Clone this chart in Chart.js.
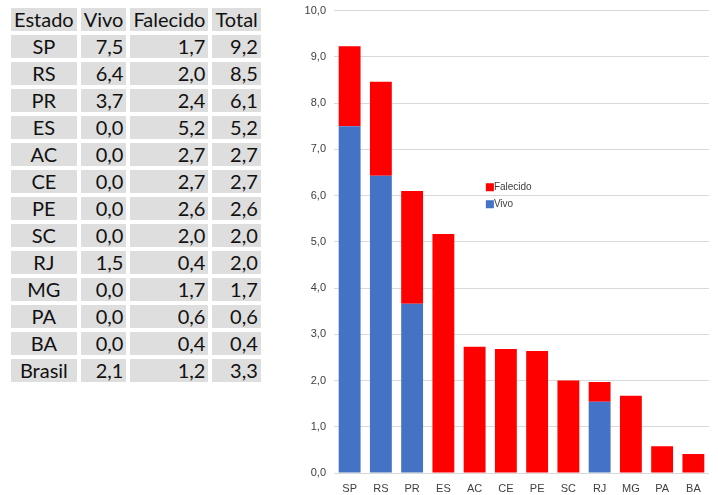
<!DOCTYPE html>
<html>
<head>
<meta charset="utf-8">
<script src="https://cdn.jsdelivr.net/npm/chart.js@4/dist/chart.umd.min.js"></script>
<style>
  body { margin: 0; background: #fff; width: 718px; height: 495px; overflow: hidden; position: relative; }
  #tbl { position: absolute; left: 7px; top: 4px; border-collapse: separate; border-spacing: 4px 4.75px;
         font-family: Lato, "Open Sans", sans-serif; font-size: 20px; color: #111; }
  #tbl td, #tbl th { background: #dedede; padding: 0 3px; height: 23px; line-height: 23px; font-weight: normal; }
  #tbl th { text-align: center; }
  #tbl td.num { text-align: right; }
  #tbl td.cat { text-align: center; }
  #chartBox { position: absolute; left: 290px; top: -4px; width: 428px; height: 500px; }
</style>
</head>
<body>
<table id="tbl"></table>
<div id="chartBox"><canvas id="bars"></canvas></div>
<script>
// table data
const headers = ["Estado", "Vivo", "Falecido", "Total"];
const estados = ["SP", "RS", "PR", "ES", "AC", "CE", "PE", "SC", "RJ", "MG", "PA", "BA", "Brasil"];
const vivo = [7.5, 6.4, 3.7, 0.0, 0.0, 0.0, 0.0, 0.0, 1.5, 0.0, 0.0, 0.0, 2.1];
const falecido = [1.7, 2.0, 2.4, 5.2, 2.7, 2.7, 2.6, 2.0, 0.4, 1.7, 0.6, 0.4, 1.2];
const total = [9.2, 8.5, 6.1, 5.2, 2.7, 2.7, 2.6, 2.0, 2.0, 1.7, 0.6, 0.4, 3.3];

// chart data (states only)
const chartLabels = ["SP", "RS", "PR", "ES", "AC", "CE", "PE", "SC", "RJ", "MG", "PA", "BA"];
const chartVivo = [7.5, 6.43, 3.66, 0, 0, 0, 0, 0, 1.54, 0, 0, 0];
const chartFalecido = [1.73, 2.03, 2.44, 5.17, 2.73, 2.68, 2.64, 2.0, 0.43, 1.67, 0.58, 0.41];
const yTicks = [0, 1, 2, 3, 4, 5, 6, 7, 8, 9, 10];

const fmt = v => v.toFixed(1).replace(".", ",");

// build table
const tbl = document.getElementById("tbl");
let html = "<tr>" + headers.map(h => "<th>" + h + "</th>").join("") + "</tr>";
estados.forEach((e, i) => {
  html += "<tr><td class='cat'>" + e + "</td><td class='num'>" + fmt(vivo[i]) +
    "</td><td class='num'>" + fmt(falecido[i]) + "</td><td class='num'>" + fmt(total[i]) + "</td></tr>";
});
tbl.innerHTML = html;

// small legend drawn inside the plot area
const innerLegend = {
  id: "innerLegend",
  afterDraw(chart) {
    const { ctx, chartArea } = chart;
    const x = chartArea.left + (chartArea.right - chartArea.left) * 0.405;
    let y = chartArea.top + (chartArea.bottom - chartArea.top) * 0.382;
    ctx.save();
    ctx.font = "10px 'Liberation Sans', Arial, sans-serif";
    ctx.textBaseline = "middle";
    [...chart.data.datasets].reverse().forEach(ds => {
      ctx.fillStyle = ds.backgroundColor;
      ctx.fillRect(x, y - 4, 8, 8);
      ctx.fillStyle = "#404040";
      ctx.fillText(ds.label, x + 8, y);
      y += 17;
    });
    ctx.restore();
  }
};

new Chart(document.getElementById("bars"), {
  type: "bar",
  data: {
    labels: chartLabels,
    datasets: [
      { label: "Vivo", data: chartVivo, backgroundColor: "#4472C4" },
      { label: "Falecido", data: chartFalecido, backgroundColor: "#FF0000" }
    ]
  },
  options: {
    responsive: true,
    maintainAspectRatio: false,
    animation: false,
    layout: { padding: { top: 10, right: 9, left: 0, bottom: 0 } },
    datasets: { bar: { categoryPercentage: 1, barPercentage: 0.7 } },
    plugins: { legend: { display: false }, tooltip: { enabled: false } },
    scales: {
      x: {
        stacked: true,
        grid: { display: false },
        border: { display: false },
        ticks: { color: "#404040", font: { family: "'Liberation Sans', Arial", size: 11 }, padding: 1 },
        afterFit(scale) { scale.height = 23; }
      },
      y: {
        stacked: true,
        min: 0,
        max: 10,
        afterBuildTicks(scale) { scale.ticks = yTicks.map(v => ({ value: v })); },
        grid: { color: "#d9d9d9", drawTicks: false },
        border: { display: false },
        ticks: {
          color: "#404040",
          padding: 8,
          font: { family: "'Liberation Sans', Arial", size: 11 },
          callback: v => fmt(v)
        },
        afterFit(scale) { scale.width = 44; }
      }
    }
  },
  plugins: [innerLegend]
});
</script>
</body>
</html>
